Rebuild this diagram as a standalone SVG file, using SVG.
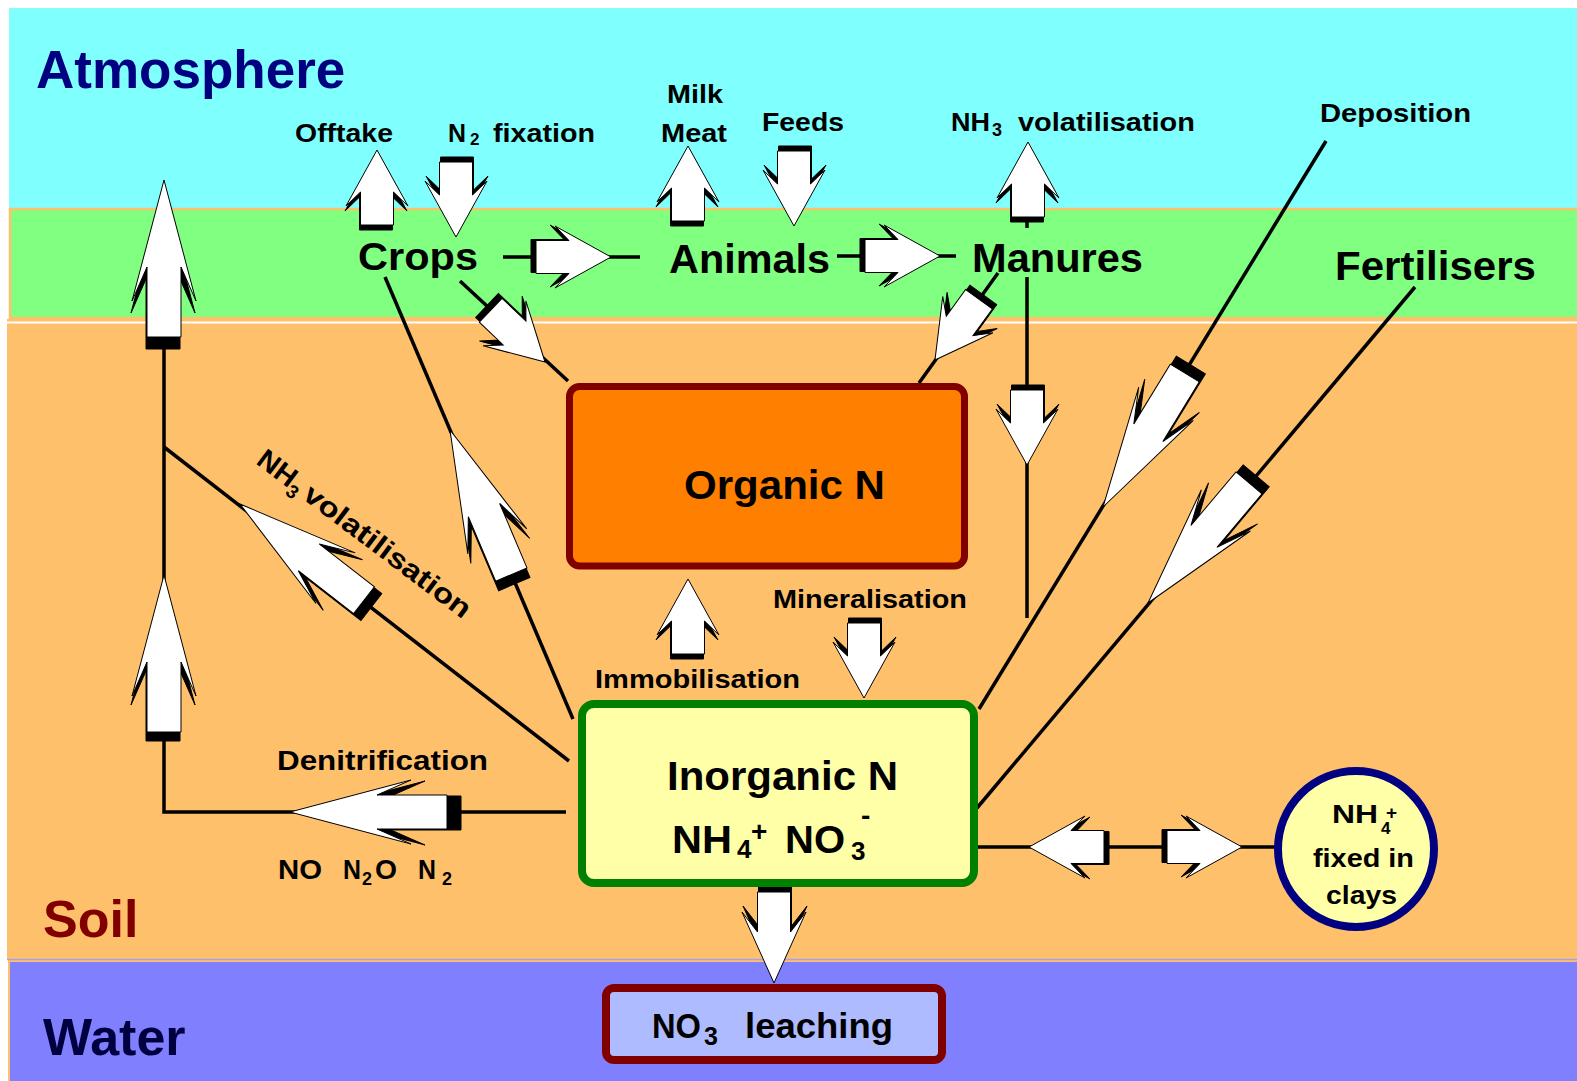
<svg xmlns="http://www.w3.org/2000/svg" xmlns:xlink="http://www.w3.org/1999/xlink" width="1577" height="1081" viewBox="0 0 1577 1081">
<style>
.t{font-family:"Liberation Sans",Arial,sans-serif;font-weight:bold;fill:#000}
.ln{stroke:#000;stroke-width:3.5;fill:none}
.sh{fill:#000;stroke:#000;stroke-width:1}
.ar{fill:#fff;stroke:#000;stroke-width:1}
</style>
<defs>
<path id="sa" d="M0,0 L-56,-31 L-42,-16.5 L-75,-16.5 L-75,16.5 L-42,16.5 L-56,31 Z"/>
<path id="la" d="M0,0 L-121,-32 L-87,-17 L-157,-17 L-157,17 L-87,17 L-121,32 Z"/>
<path id="lea" d="M0,0 L-71,-32 L-51,-16.5 L-91,-16.5 L-91,16.5 L-51,16.5 L-71,32 Z"/>
</defs>
<g id="background">
<rect x="0" y="0" width="1577" height="1081" fill="#fff"/>
<rect x="9" y="8" width="1570" height="201" fill="#80FFFF"/>
<rect x="10" y="209" width="1570" height="109" fill="#80FF80" stroke="#FFC06C" stroke-width="2.5"/>
<rect x="7" y="319" width="1572" height="641" fill="#FFC06C"/>
<line x1="7" y1="322.5" x2="1577" y2="322.5" stroke="#fff" stroke-width="2"/>
<rect x="9" y="961" width="1572" height="124" fill="#8080FF" stroke="#FFC06C" stroke-width="2"/>
<line x1="7" y1="959.5" x2="1577" y2="959.5" stroke="#A8A0E8" stroke-width="1.5"/>
<text class="t" x="36" y="88" font-size="53" style="fill:#000080">Atmosphere</text>
<text class="t" x="43" y="937" font-size="52" style="fill:#800000">Soil</text>
<text class="t" x="43" y="1055" font-size="52" style="fill:#000040">Water</text>
</g>
<g id="connectors">
<line class="ln" x1="503" y1="257" x2="640" y2="257"/>
<line class="ln" x1="837" y1="256" x2="956" y2="256"/>
<line class="ln" x1="1027" y1="215" x2="1027" y2="228"/>
<line class="ln" x1="460" y1="281" x2="568" y2="381"/>
<line class="ln" x1="998" y1="273" x2="919" y2="383"/>
<line class="ln" x1="1027" y1="277" x2="1027" y2="618"/>
<line class="ln" x1="385" y1="277" x2="573" y2="719"/>
<line class="ln" x1="164" y1="447" x2="569" y2="761"/>
<polyline class="ln" points="164,335 164,812 566,812"/>
<line class="ln" x1="1326" y1="141" x2="979" y2="709"/>
<line class="ln" x1="1415" y1="287" x2="977" y2="808"/>
<line class="ln" x1="978" y1="847" x2="1276" y2="847"/>

<g id="arrow-offtake"><use xlink:href="#sa" class="sh" transform="translate(377,150) rotate(-90) translate(-5,-1)"/><use xlink:href="#sa" class="ar" transform="translate(377,150) rotate(-90)"/></g>
<g id="arrow-n2fix"><use xlink:href="#sa" class="sh" transform="translate(456,237) rotate(90) translate(-5,-1)"/><use xlink:href="#sa" class="ar" transform="translate(456,237) rotate(90)"/></g>
<g id="arrow-milk"><use xlink:href="#sa" class="sh" transform="translate(688,146) rotate(-90) translate(-5,-1)"/><use xlink:href="#sa" class="ar" transform="translate(688,146) rotate(-90)"/></g>
<g id="arrow-feeds"><use xlink:href="#sa" class="sh" transform="translate(794,226) rotate(90) translate(-5,-1)"/><use xlink:href="#sa" class="ar" transform="translate(794,226) rotate(90)"/></g>
<g id="arrow-crops-animals"><use xlink:href="#sa" class="sh" transform="translate(611,257) rotate(0) translate(-5,-1)"/><use xlink:href="#sa" class="ar" transform="translate(611,257) rotate(0)"/></g>
<g id="arrow-animals-manures"><use xlink:href="#sa" class="sh" transform="translate(940,256) rotate(0) translate(-5,-1)"/><use xlink:href="#sa" class="ar" transform="translate(940,256) rotate(0)"/></g>
<g id="arrow-manures-nh3"><use xlink:href="#sa" class="sh" transform="translate(1028,142) rotate(-90) translate(-5,-1)"/><use xlink:href="#sa" class="ar" transform="translate(1028,142) rotate(-90)"/></g>
<g id="arrow-crops-organic"><use xlink:href="#sa" class="sh" transform="translate(545,362) rotate(43.6) translate(-6,-1)"/><use xlink:href="#sa" class="ar" transform="translate(545,362) rotate(43.6)"/></g>
<g id="arrow-manures-organic"><use xlink:href="#sa" class="sh" transform="translate(935,360) rotate(125.9) translate(-6,-1)"/><use xlink:href="#sa" class="ar" transform="translate(935,360) rotate(125.9)"/></g>
<g id="arrow-manures-inorganic"><use xlink:href="#sa" class="sh" transform="translate(1027,465) rotate(90) translate(-5,-1)"/><use xlink:href="#sa" class="ar" transform="translate(1027,465) rotate(90)"/></g>
<g id="arrow-immobilisation"><use xlink:href="#sa" class="sh" transform="translate(688,579) rotate(-90) translate(-5,-1)"/><use xlink:href="#sa" class="ar" transform="translate(688,579) rotate(-90)"/></g>
<g id="arrow-mineralisation"><use xlink:href="#sa" class="sh" transform="translate(864,698) rotate(90) translate(-5,-1)"/><use xlink:href="#sa" class="ar" transform="translate(864,698) rotate(90)"/></g>
<g id="arrow-leaching"><use xlink:href="#lea" class="sh" transform="translate(774,983) rotate(90) translate(-6,-1)"/><use xlink:href="#lea" class="ar" transform="translate(774,983) rotate(90)"/></g>
<g id="arrow-to-inorganic"><use xlink:href="#sa" class="sh" transform="translate(1029,847) rotate(180) translate(-5,-1)"/><use xlink:href="#sa" class="ar" transform="translate(1029,847) rotate(180)"/></g>
<g id="arrow-to-clays"><use xlink:href="#sa" class="sh" transform="translate(1242,847) rotate(0) translate(-5,-1)"/><use xlink:href="#sa" class="ar" transform="translate(1242,847) rotate(0)"/></g>
<g id="arrow-left-upper"><use xlink:href="#la" class="sh" transform="translate(164,180) rotate(-90) translate(-12,-1)"/><use xlink:href="#la" class="ar" transform="translate(164,180) rotate(-90)"/></g>
<g id="arrow-left-lower"><use xlink:href="#la" class="sh" transform="translate(164,575) rotate(-90) translate(-9,-1)"/><use xlink:href="#la" class="ar" transform="translate(164,575) rotate(-90)"/></g>
<g id="arrow-denitrification"><use xlink:href="#la" class="sh" transform="translate(290,812) rotate(180) translate(-14,-1)"/><use xlink:href="#la" class="ar" transform="translate(290,812) rotate(180)"/></g>
<g id="arrow-nh3-soil"><use xlink:href="#la" class="sh" transform="translate(240,504) rotate(217.8) translate(-10,-1)"/><use xlink:href="#la" class="ar" transform="translate(240,504) rotate(217.8)"/></g>
<g id="arrow-inorganic-crops"><use xlink:href="#la" class="sh" transform="translate(450,430) rotate(247) translate(-10,-1)"/><use xlink:href="#la" class="ar" transform="translate(450,430) rotate(247)"/></g>
<g id="arrow-deposition"><use xlink:href="#la" class="sh" transform="translate(1103,507) rotate(121.4) translate(-10,-1)"/><use xlink:href="#la" class="ar" transform="translate(1103,507) rotate(121.4)"/></g>
<g id="arrow-fertilisers"><use xlink:href="#la" class="sh" transform="translate(1148,603) rotate(130.05) translate(-10,-1)"/><use xlink:href="#la" class="ar" transform="translate(1148,603) rotate(130.05)"/></g>
</g>

<g id="node-organic">
<rect x="569.5" y="386.5" width="395" height="179.5" rx="10" fill="#FF8000" stroke="#800000" stroke-width="7"/>
<text class="t" x="684" y="499" font-size="40" textLength="201" lengthAdjust="spacingAndGlyphs">Organic N</text>
</g>
<g id="node-inorganic">
<rect x="582" y="704" width="392" height="179" rx="12" fill="#FFFFA8" stroke="#008000" stroke-width="8"/>
<text class="t" x="667" y="790" font-size="40" textLength="231" lengthAdjust="spacingAndGlyphs">Inorganic N</text>
<text class="t" x="672" y="853" font-size="39" textLength="60" lengthAdjust="spacingAndGlyphs">NH</text>
<text class="t" x="737" y="858" font-size="26">4</text>
<text class="t" x="751" y="841" font-size="28">+</text>
<text class="t" x="785" y="853" font-size="39" textLength="60" lengthAdjust="spacingAndGlyphs">NO</text>
<text class="t" x="851" y="860" font-size="26">3</text>
<text class="t" x="861" y="825" font-size="28">-</text>
</g>
<g id="node-leaching">
<rect x="606" y="988" width="336" height="72" rx="8" fill="#AEBBFF" stroke="#800000" stroke-width="8"/>
<text class="t" x="652" y="1038" font-size="35" textLength="49" lengthAdjust="spacingAndGlyphs">NO</text>
<text class="t" x="704" y="1045" font-size="25">3</text>
<text class="t" x="745" y="1038" font-size="35" textLength="148" lengthAdjust="spacingAndGlyphs">leaching</text>
</g>
<g id="node-clays">
<circle cx="1356" cy="849" r="78" fill="#FFFFA8" stroke="#000080" stroke-width="8"/>
<text class="t" x="1332" y="823" font-size="25" textLength="46" lengthAdjust="spacingAndGlyphs">NH</text>
<text class="t" x="1381" y="834" font-size="17">4</text>
<text class="t" x="1386" y="819" font-size="19">+</text>
<text class="t" x="1313" y="867" font-size="26" textLength="101" lengthAdjust="spacingAndGlyphs">fixed in</text>
<text class="t" x="1326" y="904" font-size="26" textLength="71" lengthAdjust="spacingAndGlyphs">clays</text>
</g>
<g id="node-crops"><text class="t" x="358" y="270" font-size="39" textLength="120" lengthAdjust="spacingAndGlyphs">Crops</text></g>
<g id="node-animals"><text class="t" x="669" y="273" font-size="40" textLength="161" lengthAdjust="spacingAndGlyphs">Animals</text></g>
<g id="node-manures"><text class="t" x="972" y="272" font-size="40" textLength="171" lengthAdjust="spacingAndGlyphs">Manures</text></g>
<g id="node-fertilisers"><text class="t" x="1335" y="280" font-size="40" textLength="201" lengthAdjust="spacingAndGlyphs">Fertilisers</text></g>

<g id="labels">
<text class="t" x="295" y="142" font-size="26" textLength="98" lengthAdjust="spacingAndGlyphs">Offtake</text>
<text class="t" x="448" y="142" font-size="26" textLength="18" lengthAdjust="spacingAndGlyphs">N</text>
<text class="t" x="470" y="145" font-size="17">2</text>
<text class="t" x="493" y="142" font-size="26" textLength="102" lengthAdjust="spacingAndGlyphs">fixation</text>
<text class="t" x="667" y="103" font-size="26" textLength="56" lengthAdjust="spacingAndGlyphs">Milk</text>
<text class="t" x="661" y="142" font-size="26" textLength="66" lengthAdjust="spacingAndGlyphs">Meat</text>
<text class="t" x="762" y="131" font-size="26" textLength="82" lengthAdjust="spacingAndGlyphs">Feeds</text>
<text class="t" x="951" y="131" font-size="26" textLength="39" lengthAdjust="spacingAndGlyphs">NH</text>
<text class="t" x="992" y="136" font-size="18">3</text>
<text class="t" x="1018" y="131" font-size="26" textLength="177" lengthAdjust="spacingAndGlyphs">volatilisation</text>
<text class="t" x="1320" y="122" font-size="26" textLength="151" lengthAdjust="spacingAndGlyphs">Deposition</text>
<g transform="translate(255,463) rotate(37)">
<text class="t" x="0" y="0" font-size="28" textLength="42" lengthAdjust="spacingAndGlyphs">NH</text>
<text class="t" x="42" y="7" font-size="19">3</text>
<text class="t" x="58" y="0" font-size="28" textLength="202" lengthAdjust="spacingAndGlyphs">volatilisation</text>
</g>
<text class="t" x="773" y="608" font-size="26" textLength="194" lengthAdjust="spacingAndGlyphs">Mineralisation</text>
<text class="t" x="595" y="688" font-size="26" textLength="205" lengthAdjust="spacingAndGlyphs">Immobilisation</text>
<text class="t" x="277" y="770" font-size="28" textLength="211" lengthAdjust="spacingAndGlyphs">Denitrification</text>
<text class="t" x="278" y="879" font-size="27" textLength="44" lengthAdjust="spacingAndGlyphs">NO</text>
<text class="t" x="343" y="879" font-size="27" textLength="18" lengthAdjust="spacingAndGlyphs">N</text>
<text class="t" x="362" y="885" font-size="18">2</text>
<text class="t" x="375" y="879" font-size="27" textLength="22" lengthAdjust="spacingAndGlyphs">O</text>
<text class="t" x="418" y="879" font-size="27" textLength="18" lengthAdjust="spacingAndGlyphs">N</text>
<text class="t" x="442" y="885" font-size="18">2</text>
</g>
</svg>
